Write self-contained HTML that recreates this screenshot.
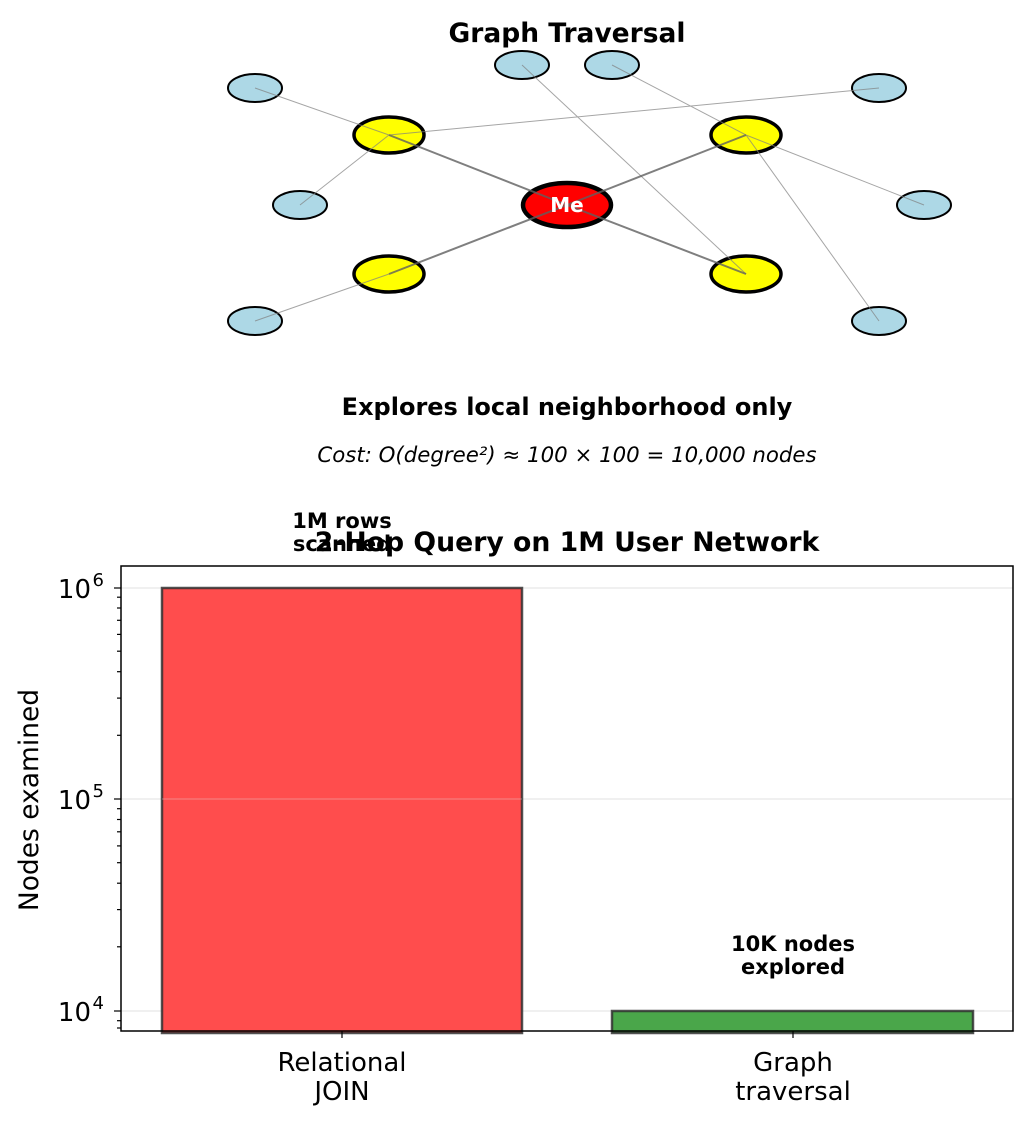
<!DOCTYPE html>
<html><head><meta charset="utf-8"><style>
html,body{margin:0;padding:0;background:#fff;}
svg{display:block;font-family:"DejaVu Sans","Liberation Sans",sans-serif;}
</style></head><body>
<svg width="1032" height="1126" viewBox="0 0 1032 1126" xmlns="http://www.w3.org/2000/svg">
<rect width="1032" height="1126" fill="#fff"/>
<text x="567" y="42" font-size="26.5" font-weight="bold" text-anchor="middle">Graph Traversal</text>
<g stroke="#000" stroke-width="2" fill="#add8e6">
<ellipse cx="255" cy="88" rx="27" ry="14"/>
<ellipse cx="522" cy="65" rx="27" ry="14"/>
<ellipse cx="612" cy="65" rx="27" ry="14"/>
<ellipse cx="879" cy="88" rx="27" ry="14"/>
<ellipse cx="300" cy="205" rx="27" ry="14"/>
<ellipse cx="924" cy="205" rx="27" ry="14"/>
<ellipse cx="255" cy="321" rx="27" ry="14"/>
<ellipse cx="879" cy="321" rx="27" ry="14"/>
</g>
<g stroke="#000" stroke-width="3.5" fill="#ffff00">
<ellipse cx="389" cy="135" rx="35" ry="18"/>
<ellipse cx="746" cy="135" rx="35" ry="18"/>
<ellipse cx="389" cy="274" rx="35" ry="18"/>
<ellipse cx="746" cy="274" rx="35" ry="18"/>
</g>
<ellipse cx="567" cy="205" rx="44" ry="22" fill="#ff0000" stroke="#000" stroke-width="4.5"/>
<g stroke="#808080" stroke-width="1" opacity="0.7">
<line x1="255" y1="88" x2="389" y2="135"/>
<line x1="300" y1="205" x2="389" y2="135"/>
<line x1="879" y1="88" x2="389" y2="135"/>
<line x1="522" y1="65" x2="746" y2="274"/>
<line x1="612" y1="65" x2="746" y2="135"/>
<line x1="924" y1="205" x2="746" y2="135"/>
<line x1="879" y1="321" x2="746" y2="135"/>
<line x1="255" y1="321" x2="389" y2="274"/>
</g>
<g stroke="#606060" stroke-width="2" opacity="0.8">
<line x1="567" y1="205" x2="389" y2="135"/>
<line x1="567" y1="205" x2="746" y2="135"/>
<line x1="567" y1="205" x2="389" y2="274"/>
<line x1="567" y1="205" x2="746" y2="274"/>
</g>
<text x="567" y="212" font-size="20" font-weight="bold" fill="#fff" text-anchor="middle">Me</text>
<text x="567" y="415" font-size="24" font-weight="bold" text-anchor="middle">Explores local neighborhood only</text>
<text x="567" y="462" font-size="21.3" font-style="italic" text-anchor="middle">Cost: O(degree²) ≈ 100 × 100 = 10,000 nodes</text>
<text x="567" y="551" font-size="26.7" font-weight="bold" text-anchor="middle">2-Hop Query on 1M User Network</text>
<g stroke="#e0e0e0" stroke-width="1">
<line x1="121" y1="588" x2="1013" y2="588"/>
<line x1="121" y1="799" x2="1013" y2="799"/>
<line x1="121" y1="1011" x2="1013" y2="1011"/>
</g>
<rect x="162" y="588" width="360" height="445" fill="#ff4d4d" stroke="#333" stroke-width="2.5" stroke-opacity="0.85"/>
<rect x="612" y="1011" width="361" height="22" fill="#4aa64a" stroke="#333" stroke-width="2.5" stroke-opacity="0.85"/>
<line x1="162" y1="799" x2="522" y2="799" stroke="#e0e0e0" stroke-opacity="0.4"/>
<rect x="121" y="566" width="892" height="465" fill="none" stroke="#000" stroke-width="1.5"/>
<g stroke="#000" stroke-width="1.2">
<line x1="114" y1="588" x2="121" y2="588"/>
<line x1="114" y1="799" x2="121" y2="799"/>
<line x1="114" y1="1011" x2="121" y2="1011"/>
<line x1="117" y1="735.3" x2="121" y2="735.3"/><line x1="117" y1="698.1" x2="121" y2="698.1"/><line x1="117" y1="671.7" x2="121" y2="671.7"/><line x1="117" y1="651.2" x2="121" y2="651.2"/><line x1="117" y1="634.4" x2="121" y2="634.4"/><line x1="117" y1="620.3" x2="121" y2="620.3"/><line x1="117" y1="608" x2="121" y2="608"/><line x1="117" y1="597.2" x2="121" y2="597.2"/>
<line x1="117" y1="946.8" x2="121" y2="946.8"/><line x1="117" y1="909.6" x2="121" y2="909.6"/><line x1="117" y1="883.2" x2="121" y2="883.2"/><line x1="117" y1="862.7" x2="121" y2="862.7"/><line x1="117" y1="845.9" x2="121" y2="845.9"/><line x1="117" y1="831.8" x2="121" y2="831.8"/><line x1="117" y1="819.5" x2="121" y2="819.5"/><line x1="117" y1="808.7" x2="121" y2="808.7"/>
<line x1="117" y1="1020.7" x2="121" y2="1020.7"/><line x1="117" y1="1028" x2="121" y2="1028"/>
<line x1="342" y1="1031" x2="342" y2="1038"/>
<line x1="793" y1="1031" x2="793" y2="1038"/>
</g>
<g font-size="26" text-anchor="end">
<text x="91" y="598">10</text><text x="104" y="586" font-size="18">6</text>
<text x="91" y="809">10</text><text x="104" y="797" font-size="18">5</text>
<text x="91" y="1021">10</text><text x="104" y="1009" font-size="18">4</text>
</g>
<text transform="translate(38,800) rotate(-90)" font-size="26.5" text-anchor="middle">Nodes examined</text>
<g font-size="26" text-anchor="middle">
<text x="342" y="1071">Relational</text><text x="342" y="1100">JOIN</text>
<text x="793" y="1071">Graph</text><text x="793" y="1100">traversal</text>
</g>
<g font-size="21" font-weight="bold" text-anchor="middle">
<text x="342" y="528">1M rows</text><text x="342" y="551">scanned</text>
<text x="793" y="951">10K nodes</text><text x="793" y="974">explored</text>
</g>
</svg>
</body></html>
